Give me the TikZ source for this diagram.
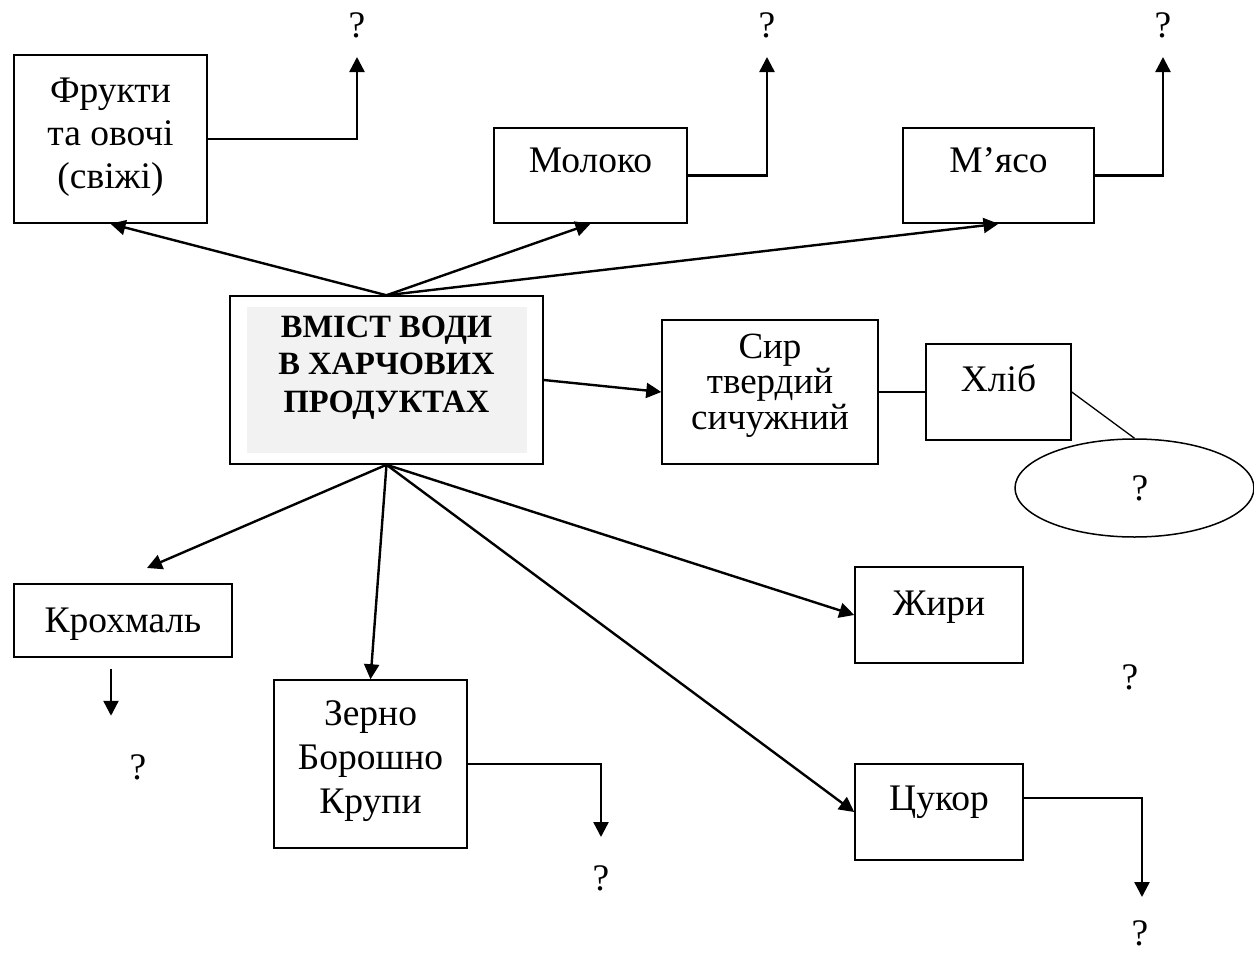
\documentclass[tikz,border=0pt]{standalone}
\usepackage{fontspec}
\setmainfont{Liberation Serif}
\usetikzlibrary{arrows.meta,shapes.geometric,calc}
\definecolor{panel}{HTML}{F2F2F2}
\begin{document}
\begin{tikzpicture}[x=1pt,y=-1pt,
  box/.style={draw, line width=1.5pt, inner sep=0pt, font=\fontsize{37.5}{43}\selectfont},
  arr/.style={line width=2.4pt, -{Triangle[length=15pt,width=15pt]}},
  thinline/.style={line width=1.3pt},
  qm/.style={font=\fontsize{37.5}{43}\selectfont, inner sep=0pt}]
\useasboundingbox (0,0) rectangle (1254,953);

% central box
\fill[panel] (247,307) rectangle (527,453);
\node[box, minimum width=313pt, minimum height=168pt, text height=41pt, text depth=127pt,
      font=\fontsize{32.5}{37.5}\selectfont\bfseries] (c) at (386.5,380)
  {\begin{tabular}[t]{@{}c@{}}ВМІСТ ВОДИ\\В ХАРЧОВИХ\\ПРОДУКТАХ\end{tabular}};

% top row
\node[box, minimum width=193pt, minimum height=168pt, text height=47pt, text depth=121pt] (fr) at (110.5,139)
  {\begin{tabular}[t]{@{}c@{}}Фрукти\\та овочі\\(свіжі)\end{tabular}};
\node[box, minimum width=193pt, minimum height=95pt, text height=44pt, text depth=51pt] (mol) at (590.5,175.5) {Молоко};
\node[box, minimum width=191pt, minimum height=95pt, text height=44pt, text depth=51pt] (mya) at (998.5,175.5) {М’ясо};

% right middle
\node[box, minimum width=216pt, minimum height=144pt, text height=38pt, text depth=106pt,
      font=\fontsize{37}{34.5}\selectfont] (syr) at (770,392)
  {\begin{tabular}[t]{@{}c@{}}Сир\\твердий\\сичужний\end{tabular}};
\node[box, minimum width=145pt, minimum height=96pt, text height=47pt, text depth=49pt] (hl) at (998.5,392) {Хліб};
\node[draw, ellipse, line width=1.5pt, inner sep=0pt, minimum width=239pt, minimum height=98pt,
      font=\fontsize{37.5}{43}\selectfont] (el) at (1134.5,488) {\hspace*{11pt}?};

% bottom
\node[box, minimum width=218pt, minimum height=73pt, text height=48pt, text depth=25pt] (kr) at (123,620.5) {Крохмаль};
\node[box, minimum width=193pt, minimum height=168pt, text height=45pt, text depth=123pt,
      font=\fontsize{37.5}{44}\selectfont] (zer) at (370.5,764)
  {\begin{tabular}[t]{@{}c@{}}Зерно\\Борошно\\Крупи\end{tabular}};
\node[box, minimum width=168pt, minimum height=96pt, text height=48pt, text depth=48pt] (zh) at (939,615) {Жири};
\node[box, minimum width=168pt, minimum height=96pt, text height=46pt, text depth=50pt] (cuk) at (939,812) {Цукор};

% question marks
\node[qm] (q1) at (357,25) {?};
\node[qm] (q2) at (767,25) {?};
\node[qm] (q3) at (1163,25) {?};
\node[qm] (q4) at (138,767) {?};
\node[qm] (q5) at (601,878) {?};
\node[qm] (q6) at (1130,677) {?};
\node[qm] (q7) at (1140,933) {?};

% arrow end points
\coordinate (t1) at (357,57);
\coordinate (t2) at (767,57);
\coordinate (t3) at (1163,57);
\coordinate (tkr) at (147,568);
\coordinate (t5) at (601,837);
\coordinate (t7) at (1142,897);

% connectors from the centre
\draw[arr] (c.north) -- (fr.south);
\draw[arr] (c.north) -- (mol.south);
\draw[arr] (c.north) -- (mya.south);
\draw[arr] (c.east) -- (syr.west);
\draw[arr] (c.south) -- (tkr);
\draw[arr] (c.south) -- (zer.north);
\draw[arr] (c.south) -- (zh.west);
\draw[arr] (c.south) -- (cuk.west);

% elbow arrows
\draw[arr] (fr.east) -| (t1);
\draw[arr] (mol.east) -| (t2);
\draw[arr] (mya.east) -| (t3);
\draw[arr] (zer.east) -| (t5);
\draw[arr] ($(cuk.east)+(0,-14)$) -| (t7);
\draw[arr] ($(kr.south)+(-12,11)$) -- ($(kr.south)+(-12,58)$);

% plain lines
\draw[thinline] (syr.east) -- (hl.west);
\draw[thinline] (hl.east) -- (el.north);
\end{tikzpicture}
\end{document}
